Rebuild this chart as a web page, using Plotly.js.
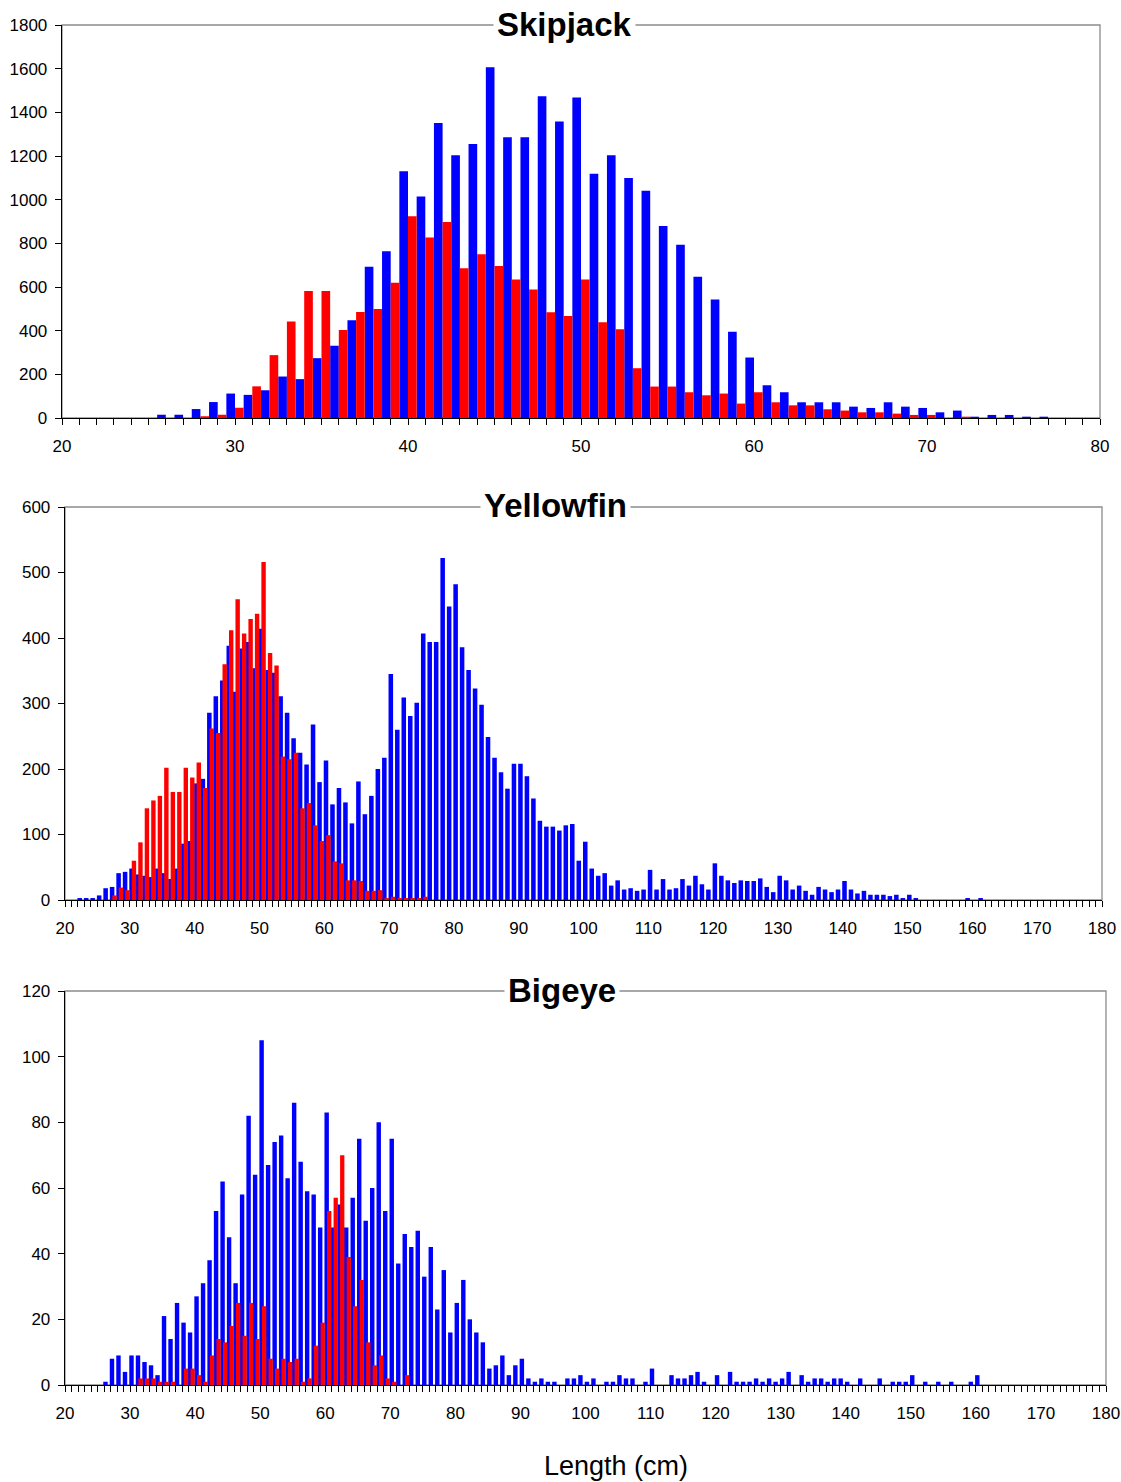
<!DOCTYPE html>
<html>
<head>
<meta charset="utf-8">
<script src="https://cdn.plot.ly/plotly-3.0.1.min.js"></script>
<style>html,body{margin:0;padding:0;background:#fff}#chart{width:1121px;height:1482px}</style>
</head>
<body>
<div id="chart"></div>
<script>
// ---------------- DATA ----------------
// Skipjack (length class in cm)
const skjBlueLen = [26,27,28,29,30,31,32,33,34,35,36,37,38,39,40,41,42,43,44,45,46,47,48,49,50,51,52,53,54,55,56,57,58,59,60,61,62,63,64,65,66,67,68,69,70,71,72,73,74,75,76,77];
const skjBlue    = [15,15,41,73,112,106,127,190,178,274,331,448,693,764,1130,1015,1351,1203,1255,1607,1286,1286,1474,1358,1468,1119,1203,1099,1041,879,794,647,543,395,277,150,118,72,72,72,52,46,72,52,46,26,34,6,14,14,6,6];
const skjRedLen  = [28,29,30,31,32,33,34,35,36,37,38,39,40,41,42,43,44,45,46,47,48,49,50,51,52,53,54,55,56,57,58,59,60,61,62,63,64,65,66,67,68,69,70,72];
const skjRed     = [8,15,47,145,288,442,582,582,403,485,499,620,924,827,898,686,750,696,634,589,484,467,634,439,407,228,144,144,118,104,112,66,118,72,58,58,40,34,26,26,20,14,14,6];

// Yellowfin
const yftBlueLen = [22,23,24,25,26,27,28,29,30,31,32,33,34,35,36,37,38,39,40,41,42,43,44,45,46,47,48,49,50,51,52,53,54,55,56,57,58,59,60,61,62,63,64,65,66,67,68,69,70,71,72,73,74,75,76,77,78,79,80,81,82,83,84,85,86,87,88,89,90,91,92,93,94,95,96,97,98,99,100,101,102,103,104,105,106,107,108,109,110,111,112,113,114,115,116,117,118,119,120,121,122,123,124,125,126,127,128,129,130,131,132,133,134,135,136,137,138,139,140,141,142,143,144,145,146,147,148,149,150,151,159,161];
const yftBlue    = [3,3,3,7,18,20,41,43,48,39,37,35,48,41,32,48,86,90,178,185,286,311,335,388,318,384,394,354,414,351,347,311,286,247,225,207,268,180,213,146,171,149,117,181,131,159,200,217,345,260,309,281,301,407,394,394,522,448,482,386,351,323,298,249,217,195,170,208,208,189,155,121,112,112,106,114,116,60,89,48,37,41,22,30,16,18,14,16,46,16,32,16,18,32,22,37,24,16,56,37,30,26,30,29,29,33,20,12,37,30,16,22,14,8,20,16,12,16,29,16,10,14,8,8,8,6,8,3,8,3,3,3];
const yftRedLen  = [27,28,29,30,31,32,33,34,35,36,37,38,39,40,41,42,43,44,45,46,47,48,49,50,51,52,53,54,55,56,57,58,59,60,61,62,63,64,65,66,67,68,69,70,71,72,73,74,75];
const yftRed     = [7,19,15,60,88,140,152,159,202,165,165,202,187,210,171,262,255,360,412,459,407,429,437,516,377,358,219,215,225,140,148,114,90,99,59,56,30,30,29,14,14,15,3,5,3,3,3,3,5];

// Bigeye
const betBlueLen = [26,27,28,29,30,31,32,33,34,35,36,37,38,39,40,41,42,43,44,45,46,47,48,49,50,51,52,53,54,55,56,57,58,59,60,61,62,63,64,65,66,67,68,69,70,71,72,73,74,75,76,77,78,79,80,81,82,83,84,85,86,87,88,89,90,91,92,93,94,95,97,98,99,100,101,103,104,105,106,107,109,110,113,114,115,116,117,118,120,122,123,124,125,126,127,128,129,130,131,133,134,135,136,137,138,139,140,142,145,147,148,149,150,152,154,156,159,160];
const betBlue    = [1,8,9,4,9,9,7,6,3,21,14,25,19,16,27,31,38,53,62,45,31,58,82,64,105,67,74,76,63,86,68,59,58,48,83,48,55,48,57,75,50,60,80,53,75,37,46,42,47,33,42,23,35,16,25,32,20,16,13,5,6,9,3,6,8,2,1,2,1,1,2,2,3,1,2,1,1,3,2,2,1,5,3,2,2,3,4,1,3,4,1,1,1,2,1,2,1,2,4,3,1,2,2,1,2,2,1,2,2,1,1,1,3,1,1,1,1,3];
const betRedLen  = [31,32,33,34,35,36,38,39,40,41,42,43,44,45,46,47,48,49,50,51,52,53,54,55,56,57,58,59,60,61,62,63,64,65,66,67,68,69,70,72];
const betRed     = [2,2,2,1,1,1,5,5,3,1,9,14,13,18,25,15,25,14,24,8,5,8,7,8,1,2,12,19,53,57,70,39,24,32,13,6,9,2,1,3];

// Axis tick settings
const xTickStart = 20;
const speciesTitles = ['Skipjack', 'Yellowfin', 'Bigeye'];
const xAxisTitle = 'Length (cm)';

// ---------------- LAYOUT / STYLE ----------------
const W = 1121, H = 1482;
const BLUE = '#0000FF', RED = '#FF0000';
const FONT = 'Liberation Sans, Arial, sans-serif';

function px(x){ return x / W; }
function py(y){ return 1 - y / H; }

function bars(xs, ys, color, xa, ya, offset, width){
  return {type:'bar', x:xs, y:ys, xaxis:xa, yaxis:ya, offset:offset, width:width,
          marker:{color:color, line:{width:0}}, showlegend:false, hoverinfo:'x+y'};
}

const traces = [
  bars(skjBlueLen, skjBlue, BLUE, 'x',  'y',  -0.5, 0.5),
  bars(skjRedLen,  skjRed,  RED,  'x',  'y',   0.0, 0.5),
  bars(yftBlueLen, yftBlue, BLUE, 'x2', 'y2', -0.08, 0.7),
  bars(yftRedLen,  yftRed,  RED,  'x2', 'y2',  0.3, 0.68),
  bars(betBlueLen, betBlue, BLUE, 'x3', 'y3', -0.12, 0.68),
  bars(betRedLen,  betRed,  RED,  'x3', 'y3',  0.28, 0.66)
];

function xaxis(l, r, anchor, range){
  return {domain:[px(l), px(r)], anchor:anchor, range:range, tick0:xTickStart, dtick:10,
    ticks:'outside', ticklen:6, tickwidth:1, tickcolor:'#000',
    showline:true, linecolor:'#000', linewidth:1.3, showgrid:false, zeroline:false,
    tickfont:{family:FONT, size:17, color:'#000'}, ticklabelstandoff:6,
    minor:{tick0:xTickStart, dtick:1, ticks:'outside', ticklen:6, tickwidth:1, tickcolor:'#000', showgrid:false},
    fixedrange:true};
}
function yaxis(top, bottom, anchor, range, dtick){
  return {domain:[py(bottom), py(top)], anchor:anchor, range:range, dtick:dtick, tick0:0,
    ticks:'outside', ticklen:6, tickwidth:1, tickcolor:'#000',
    showline:true, linecolor:'#000', linewidth:1.3, showgrid:false, zeroline:false,
    tickfont:{family:FONT, size:17, color:'#000'}, ticklabelstandoff:4,
    fixedrange:true};
}

function frame(xr, yr){
  return {type:'rect', xref:xr + ' domain', yref:yr + ' domain', x0:0, x1:1, y0:0, y1:1,
          line:{color:'#8c8c8c', width:1.3}, layer:'below'};
}
function titleAnn(text, x, y){
  return {text:'<b>' + text + '</b>', xref:'paper', yref:'paper', x:px(x), y:py(y),
          xanchor:'center', yanchor:'middle', showarrow:false, bgcolor:'#fff', borderpad:3,
          font:{family:FONT, size:33, color:'#000'}};
}

const layout = {
  width:W, height:H, margin:{l:0, r:0, t:0, b:0},
  paper_bgcolor:'#fff', plot_bgcolor:'#fff', barmode:'overlay',
  xaxis:  xaxis(62, 1100, 'y',  [20, 80]),
  yaxis:  yaxis(25, 418, 'x', [0, 1800], 200),
  xaxis2: xaxis(65, 1102, 'y2', [20, 180]),
  yaxis2: yaxis(507, 900, 'x2', [0, 600], 100),
  xaxis3: xaxis(65, 1106, 'y3', [20, 180]),
  yaxis3: yaxis(991, 1385, 'x3', [0, 120], 20),
  shapes:[frame('x','y'), frame('x2','y2'), frame('x3','y3')],
  annotations:[
    titleAnn(speciesTitles[0], 564, 24),
    titleAnn(speciesTitles[1], 555, 505),
    titleAnn(speciesTitles[2], 562, 990),
    {text:xAxisTitle, xref:'paper', yref:'paper', x:px(616), y:py(1466), xanchor:'center', yanchor:'middle',
     showarrow:false, font:{family:FONT, size:27, color:'#000'}}
  ]
};

Plotly.newPlot('chart', traces, layout, {staticPlot:true, displayModeBar:false});
</script>
</body>
</html>
